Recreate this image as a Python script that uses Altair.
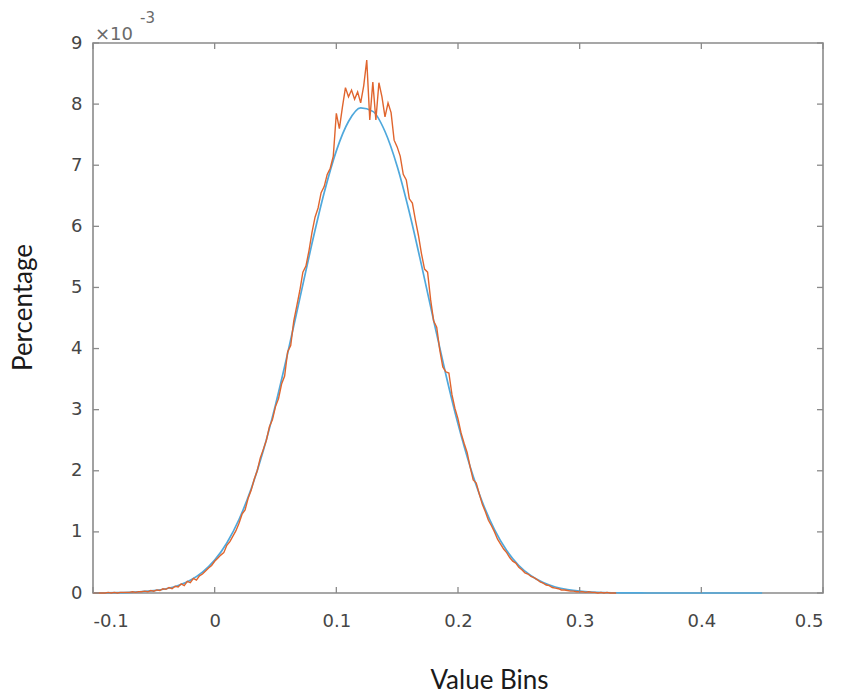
import altair as alt
import numpy as np
import pandas as pd

# Histogram (orange), values in units of 1e-3, bins from -0.1 to 0.33 step 0.0025
hist_vals = [
    0.00, 0.00, 0.00, 0.00, 0.00, 0.01, 0.00, 0.01, 0.00, 0.01,
    0.01, 0.01, 0.01, 0.02, 0.01, 0.02, 0.02, 0.03, 0.02, 0.04,
    0.03, 0.05, 0.04, 0.07, 0.06, 0.09, 0.07, 0.11, 0.10, 0.15,
    0.12, 0.19, 0.17, 0.24, 0.21, 0.28, 0.31, 0.36, 0.41, 0.45,
    0.52, 0.57, 0.62, 0.66, 0.78, 0.84, 0.93, 1.02, 1.14, 1.29,
    1.36, 1.55, 1.68, 1.86, 2.00, 2.21, 2.35, 2.50, 2.72, 2.84,
    3.05, 3.18, 3.42, 3.55, 3.95, 4.05, 4.45, 4.70, 4.95, 5.25,
    5.35, 5.60, 5.90, 6.15, 6.30, 6.55, 6.65, 6.85, 6.95, 7.15,
    7.85, 7.60, 7.95, 8.27, 8.12, 8.23, 8.08, 8.20, 8.02, 8.30,
    8.72, 7.74, 8.36, 7.74, 8.35, 8.12, 7.79, 8.02, 7.86, 7.41,
    7.30, 7.15, 6.85, 6.76, 6.45, 6.38, 6.10, 5.85, 5.55, 5.30,
    5.25, 4.80, 4.45, 4.35, 3.98, 3.70, 3.62, 3.60, 3.25, 3.02,
    2.85, 2.62, 2.45, 2.30, 2.06, 1.85, 1.80, 1.62, 1.45, 1.33,
    1.19, 1.10, 1.00, 0.88, 0.80, 0.72, 0.66, 0.58, 0.52, 0.49,
    0.42, 0.38, 0.33, 0.31, 0.27, 0.25, 0.22, 0.18, 0.16, 0.13,
    0.12, 0.09, 0.08, 0.07, 0.05, 0.05, 0.04, 0.03, 0.03, 0.02,
    0.02, 0.02, 0.01, 0.02, 0.01, 0.01, 0.00, 0.01, 0.00, 0.01,
    0.00, 0.00, 0.00,
]
hist_bins = np.round(np.linspace(-0.1, 0.33, len(hist_vals)), 5)

# Fitted curve (blue), bins from -0.10 to 0.45 step 0.01
fit_vals = [
    0.001, 0.0025, 0.005, 0.011, 0.021, 0.039, 0.070, 0.123, 0.209, 0.341,
    0.538, 0.819, 1.203, 1.705, 2.333, 3.079, 3.923, 4.822, 5.721, 6.549,
    7.235, 7.715, 7.937, 7.881, 7.552, 6.983, 6.231, 5.365, 4.458, 3.576,
    2.767, 2.066, 1.489, 1.036, 0.695, 0.450, 0.282, 0.170, 0.099, 0.056,
    0.030, 0.016, 0.008, 0.004, 0.002, 0.001, 0, 0, 0, 0,
    0, 0, 0, 0, 0, 0,
]
fit_bins = np.round(np.linspace(-0.10, 0.45, len(fit_vals)), 4)

x_ticks = [-0.1, 0, 0.1, 0.2, 0.3, 0.4, 0.5]
y_ticks = [0, 1, 2, 3, 4, 5, 6, 7, 8, 9]

hist_df = pd.DataFrame({"bin": hist_bins, "pct": hist_vals})
fit_df = pd.DataFrame({"bin": fit_bins, "pct": fit_vals})
xt_df = pd.DataFrame({"bin": x_ticks})
yt_df = pd.DataFrame({"pct": y_ticks})

W, H = 730, 550
GRAY = "#8a8a8a"
LABEL = "#464646"

xscale = alt.Scale(domain=[-0.1, 0.5], nice=False, zero=False)
yscale = alt.Scale(domain=[0, 9], nice=False, zero=False)

xaxis = alt.Axis(
    values=x_ticks,
    labelExpr="replace(format(datum.value, '~g'), '\u2212', '-')",
    title="Value Bins",
    ticks=False, tickSize=0, domain=False, grid=False,
    labelPadding=19,
    titleX=396, titleY=95, titleBaseline="alphabetic", titleAlign="center",
)
yaxis = alt.Axis(
    values=y_ticks,
    title="Percentage",
    ticks=False, tickSize=0, domain=False, grid=False,
    labelPadding=11,
    titleX=-62, titleY=264, titleAngle=-90, titleBaseline="alphabetic", titleAlign="center",
)

X = alt.X("bin:Q", scale=xscale, axis=xaxis, title="Value Bins")
Y = alt.Y("pct:Q", scale=yscale, axis=yaxis, title="Percentage")

fit = alt.Chart(fit_df).mark_line(color="#4FA8DC", strokeWidth=1.7, interpolate="monotone").encode(
    x=X, y=Y,
)
hist = alt.Chart(hist_df).mark_line(color="#E0652E", strokeWidth=1.4).encode(
    x=X, y=Y,
)

xt_bottom = alt.Chart(xt_df).mark_rule(color=GRAY, strokeWidth=1.3).encode(
    x=X, y=alt.value(H), y2=alt.value(H - 6))
xt_top = alt.Chart(xt_df).mark_rule(color=GRAY, strokeWidth=1.3).encode(
    x=X, y=alt.value(0), y2=alt.value(6))
yt_left = alt.Chart(yt_df).mark_rule(color=GRAY, strokeWidth=1.3).encode(
    y=Y, x=alt.value(0), x2=alt.value(6))
yt_right = alt.Chart(yt_df).mark_rule(color=GRAY, strokeWidth=1.3).encode(
    y=Y, x=alt.value(W), x2=alt.value(W - 6))

exp_base = alt.Chart(pd.DataFrame({"t": ["\u00d710"]})).mark_text(
    font="DejaVu Sans", fontSize=18, color="#6a6a6a", align="left", baseline="alphabetic"
).encode(text="t:N", x=alt.value(2), y=alt.value(-3))
exp_sup = alt.Chart(pd.DataFrame({"t": ["-3"]})).mark_text(
    font="DejaVu Sans", fontSize=15, color="#6a6a6a", align="left", baseline="alphabetic"
).encode(text="t:N", x=alt.value(47), y=alt.value(-20))

chart = alt.layer(
    fit, hist, xt_bottom, xt_top, yt_left, yt_right, exp_base, exp_sup
).properties(
    width=W, height=H,
    autosize=alt.AutoSizeParams(type="none"),
    padding={"left": 93, "top": 43, "right": 20, "bottom": 103},
    background="white",
).configure_view(
    stroke=GRAY, strokeWidth=1.6
).configure_axis(
    labelFont="DejaVu Sans", labelFontSize=18, labelColor=LABEL,
    titleFont="Lato", titleFontSize=26, titleFontWeight="normal", titleColor="#1a1a1a",
)

chart.save("out.html", embed_options={"renderer": "svg", "actions": False})
